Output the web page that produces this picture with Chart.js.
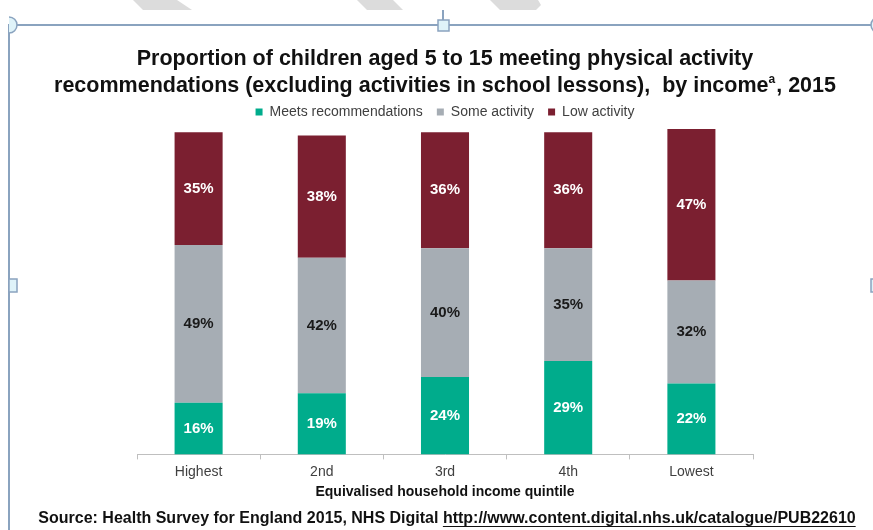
<!DOCTYPE html>
<html>
<head>
<meta charset="utf-8">
<script src="https://cdn.jsdelivr.net/npm/chart.js@4/dist/chart.umd.min.js"></script>
<style>
  html, body { margin: 0; padding: 0; background: #fff; }
  #wrap { width: 873px; height: 530px; }
</style>
</head>
<body>
<div id="wrap"><canvas id="grafico"></canvas></div>
<script>
// Quintis de renda e percentuais de cada nível de atividade
const quintis = ["Highest", "2nd", "3rd", "4th", "Lowest"];
const atende = [16, 19, 24, 29, 22];
const alguma = [49, 42, 40, 35, 32];
const baixa = [35, 38, 36, 36, 47];

const titulo1 = "Proportion of children aged 5 to 15 meeting physical activity";
const titulo2 = "recommendations (excluding activities in school lessons),  by income";
const fonte = "Source: Health Survey for England 2015, NHS Digital ";
const link = "http://www.content.digital.nhs.uk/catalogue/PUB22610";

const familia = "'Liberation Sans', Arial, sans-serif";
const corLinha = "#8aa3bf";
const corAlca = "#dff3f9";

// Fundo, faixas cinzas e a moldura do objeto selecionado
const moldura = {
  id: "moldura",
  beforeDraw(chart) {
    const ctx = chart.ctx;
    ctx.save();
    ctx.fillStyle = "#ffffff";
    ctx.fillRect(0, 0, chart.width, chart.height);

    ctx.fillStyle = "#dcdcdc";
    [
      [[133, 0], [177, 0], [192, 10], [143, 10]],
      [[357, 0], [393, 0], [403, 10], [367, 10]],
      [[490, 0], [538, 0], [541, 5], [536, 10], [500, 10]]
    ].forEach(p => {
      ctx.beginPath();
      ctx.moveTo(p[0][0], p[0][1]);
      p.slice(1).forEach(q => ctx.lineTo(q[0], q[1]));
      ctx.closePath();
      ctx.fill();
    });

    ctx.strokeStyle = corLinha;
    ctx.lineWidth = 2;
    ctx.beginPath();
    ctx.moveTo(8, 25); ctx.lineTo(873, 25);
    ctx.moveTo(9, 25); ctx.lineTo(9, 530);
    ctx.moveTo(443, 10); ctx.lineTo(443, 20);
    ctx.stroke();

    ctx.fillStyle = corAlca;
    ctx.lineWidth = 1.5;
    // alças redondas nos cantos
    ctx.beginPath(); ctx.arc(9, 25, 8, -Math.PI / 2, Math.PI / 2); ctx.fill(); ctx.stroke();
    ctx.beginPath(); ctx.arc(879, 25, 8, 0, Math.PI * 2); ctx.fill(); ctx.stroke();
    // alças quadradas
    [[438, 20, 11, 11], [9, 279, 8, 13], [871, 279, 8, 13]].forEach(r => {
      ctx.fillRect(r[0], r[1], r[2], r[3]);
      ctx.strokeRect(r[0], r[1], r[2], r[3]);
    });
    ctx.restore();
  },
  afterDraw(chart) {
    const ctx = chart.ctx;
    const cx = (chart.chartArea.left + chart.chartArea.right) / 2;
    ctx.save();
    ctx.fillStyle = "#111111";
    ctx.textBaseline = "middle";

    // Título em duas linhas, com o "a" sobrescrito
    ctx.font = "bold 21.5px " + familia;
    ctx.textAlign = "center";
    ctx.fillText(titulo1, cx, 59);

    ctx.textAlign = "left";
    const w1 = ctx.measureText(titulo2).width;
    const w3 = ctx.measureText(", 2015").width;
    ctx.font = "bold 12px " + familia;
    const w2 = ctx.measureText("a").width + 1;
    let x = cx - (w1 + w2 + w3) / 2;
    ctx.font = "bold 21.5px " + familia;
    ctx.fillText(titulo2, x, 86);
    x += w1;
    ctx.font = "bold 12px " + familia;
    ctx.fillText("a", x, 80);
    x += w2;
    ctx.font = "bold 21.5px " + familia;
    ctx.fillText(", 2015", x, 86);

    // Linha da fonte com o endereço sublinhado
    ctx.font = "bold 16px " + familia;
    const wf = ctx.measureText(fonte).width;
    const wl = ctx.measureText(link).width;
    x = 447 - (wf + wl) / 2;
    ctx.fillText(fonte, x, 519);
    ctx.fillText(link, x + wf, 519);
    ctx.strokeStyle = "#111111";
    ctx.lineWidth = 1;
    ctx.beginPath();
    ctx.moveTo(x + wf, 526.5);
    ctx.lineTo(x + wf + wl, 526.5);
    ctx.stroke();
    ctx.restore();
  },
  // Percentuais dentro de cada segmento
  afterDatasetsDraw(chart) {
    const ctx = chart.ctx;
    const coresTexto = ["#ffffff", "#1a1a1a", "#ffffff"];
    ctx.save();
    ctx.font = "bold 15px " + familia;
    ctx.textAlign = "center";
    ctx.textBaseline = "middle";
    chart.data.datasets.forEach((ds, i) => {
      chart.getDatasetMeta(i).data.forEach((bar, j) => {
        ctx.fillStyle = coresTexto[i];
        ctx.fillText(ds.data[j] + "%", bar.x, (bar.y + bar.base) / 2);
      });
    });
    ctx.restore();
  }
};

new Chart(document.getElementById("grafico"), {
  type: "bar",
  data: {
    labels: quintis,
    datasets: [
      { label: "Meets recommendations", data: atende, backgroundColor: "#00ac8c" },
      { label: "Some activity", data: alguma, backgroundColor: "#a6adb4" },
      { label: "Low activity", data: baixa, backgroundColor: "#7b1f30" }
    ]
  },
  options: {
    responsive: true,
    maintainAspectRatio: false,
    animation: false,
    layout: {
      padding: { left: 137, right: 120, top: 91, bottom: 29 }
    },
    datasets: {
      bar: { barPercentage: 0.39, categoryPercentage: 1, borderWidth: 0 }
    },
    plugins: {
      title: { display: false },
      tooltip: { enabled: false },
      legend: {
        labels: {
          boxWidth: 7,
          boxHeight: 7,
          padding: 14,
          color: "#404040",
          font: { size: 14, family: familia }
        }
      }
    },
    scales: {
      x: {
        stacked: true,
        grid: { display: true, drawOnChartArea: false, tickLength: 5, color: "#bfbfbf" },
        border: { display: true, color: "#bfbfbf" },
        ticks: { color: "#404040", padding: 5.4, font: { size: 14, lineHeight: 1.0, family: familia } },
        title: {
          display: true,
          text: "Equivalised household income quintile",
          color: "#111111",
          padding: { top: 0, bottom: 0 },
          font: { size: 14, weight: "bold", family: familia }
        }
      },
      y: {
        stacked: true,
        display: false,
        min: 0,
        max: 101
      }
    }
  },
  plugins: [moldura]
});
</script>
</body>
</html>
